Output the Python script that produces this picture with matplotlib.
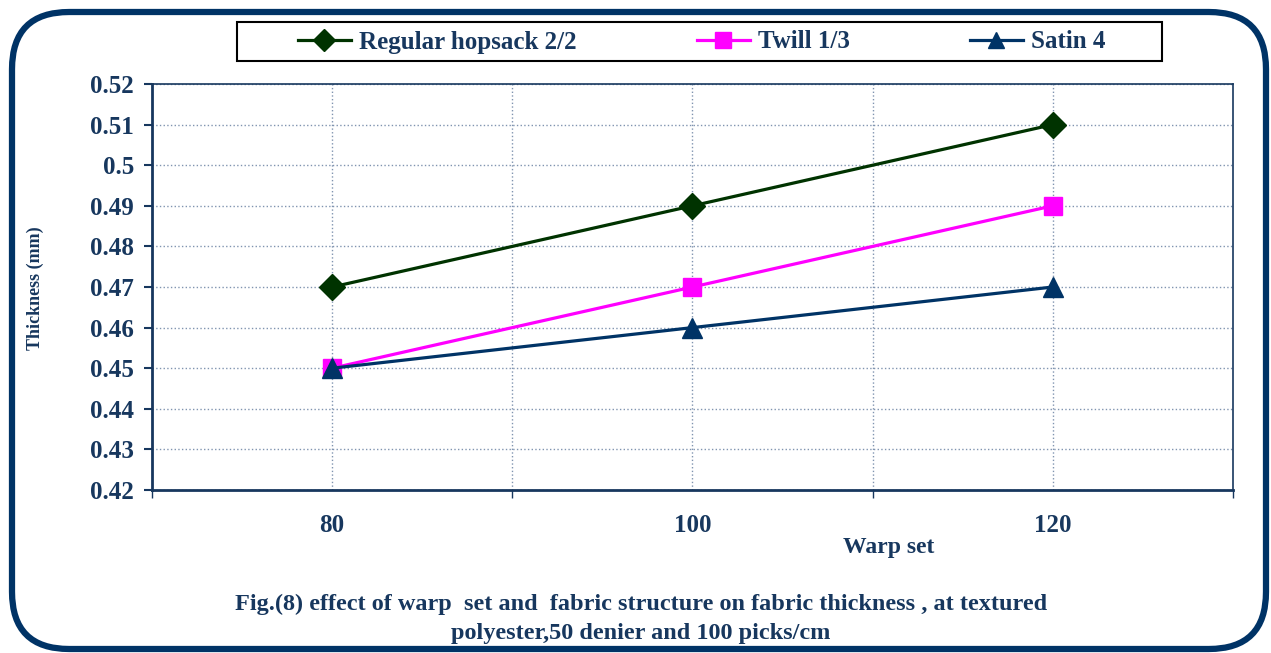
import matplotlib
matplotlib.use('Agg')
import matplotlib.pyplot as plt
from matplotlib.patches import FancyBboxPatch, Rectangle

# data
warp_set = [80, 100, 120]
hopsack = [0.47, 0.49, 0.51]
twill = [0.45, 0.47, 0.49]
satin = [0.45, 0.46, 0.47]
y_ticks = [0.42, 0.43, 0.44, 0.45, 0.46, 0.47, 0.48, 0.49, 0.5, 0.51, 0.52]
y_labels = ['0.42', '0.43', '0.44', '0.45', '0.46', '0.47', '0.48', '0.49', '0.5', '0.51', '0.52']

navy = '#17375E'
plt.rcParams['font.family'] = ['Liberation Serif', 'DejaVu Serif']
plt.rcParams['font.weight'] = 'bold'

W, H = 1271, 653
fig = plt.figure(figsize=(W / 100, H / 100), dpi=100)

# rounded outer frame
frame = FancyBboxPatch((12 / W, 4 / H), 1254 / W, 637 / H,
                       boxstyle='round,pad=0,rounding_size=0.045',
                       transform=fig.transFigure, fill=False,
                       edgecolor='#003366', linewidth=4.5, mutation_aspect=W / H)
fig.patches.append(frame)

ax = fig.add_axes([152 / W, 1 - 490 / H, (1233 - 152) / W, (490 - 84) / H])

l1, = ax.plot(warp_set, hopsack, color='#003300', lw=2.3, marker='D', ms=13)
l2, = ax.plot(warp_set, twill, color='#FF00FF', lw=2.3, marker='s', ms=13)
l3, = ax.plot(warp_set, satin, color='#003366', lw=2.3, marker='^', ms=15)

ax.set_xlim(70, 130)
ax.set_ylim(0.42, 0.52)
ax.set_yticks(y_ticks)
ax.set_yticklabels(y_labels)
ax.set_xticks([70, 90, 110, 130])
ax.set_xticklabels([])
ax.set_xticks(warp_set, minor=True)
ax.set_xticklabels([str(v) for v in warp_set], minor=True)
ax.tick_params(axis='x', which='minor', length=0, pad=17, labelsize=18, labelcolor=navy)
ax.tick_params(axis='x', which='major', length=6, color=navy, width=1)
ax.tick_params(axis='y', length=6, color=navy, width=1.5, labelsize=18, labelcolor=navy, pad=7)

grid_kw = dict(color='#8094B0', linestyle=':', lw=1)
ax.grid(True, which='minor', axis='x', **grid_kw)
ax.grid(True, which='major', axis='y', **grid_kw)
for x in [90, 110]:
    ax.axvline(x, zorder=0, **grid_kw)
ax.set_axisbelow(True)

for s in ['left', 'bottom']:
    ax.spines[s].set_color(navy)
    ax.spines[s].set_linewidth(2)
for s in ['top', 'right']:
    ax.spines[s].set_color(navy)
    ax.spines[s].set_linewidth(1.2)

fig.text(35 / W, 1 - 288 / H, 'Thickness (mm)', rotation=90, ha='center', va='center',
         fontsize=13, color=navy, fontweight='bold')
fig.text(889 / W, 1 - 547 / H, 'Warp set', ha='center', va='center',
         fontsize=17, color=navy, fontweight='bold')

# legend box
fig.patches.append(Rectangle((237 / W, 1 - 61 / H), (1162 - 237) / W, 39 / H,
                             transform=fig.transFigure, fill=False,
                             edgecolor='black', linewidth=1.5))
leg = fig.legend([l1, l2, l3], ['Regular hopsack 2/2', 'Twill 1/3', 'Satin 4'],
                 loc='center', bbox_to_anchor=(702 / W, 1 - 42 / H), ncol=3,
                 frameon=False, handlelength=2.1, handletextpad=0.35,
                 columnspacing=4.8, prop={'size': 18, 'weight': 'bold'})
for t in leg.get_texts():
    t.set_color(navy)
for h in leg.legend_handles:
    h.set_markersize(11)

fig.text(641 / W, 1 - 604 / H,
         'Fig.(8) effect of warp  set and  fabric structure on fabric thickness , at textured',
         ha='center', va='center', fontsize=17.5, color=navy, fontweight='bold')
fig.text(641 / W, 1 - 633 / H, 'polyester,50 denier and 100 picks/cm',
         ha='center', va='center', fontsize=17.5, color=navy, fontweight='bold')

fig.savefig('out.png', dpi=100)
